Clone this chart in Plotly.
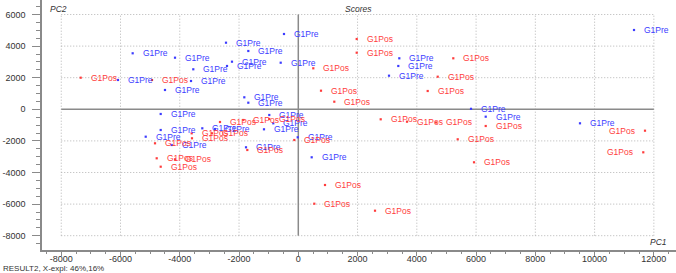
import plotly.graph_objects as go

# ---------------- data ----------------
pre_label = "G1Pre"
pos_label = "G1Pos"

pre_x = [-6085, -5590, -4161, -3544, -2440, -3621, -4499, -2238, -2406, -594,
         -483, -1687, -1822, -1687, 3409, 3375, 3061, 11330, 5829, 6325,
         9507, -20, 452, -979, -844, -1158, -1765, -5150, -4644, -4644,
         -4273, -3240, -2811]
pre_y = [1855, 3545, 3266, 2532, 4215, 1791, 1222, 3013, 2741, 2949,
         4766, 3690, 759, 418, 3228, 2741, 2127, 5019, 30, -468,
         -886, -1772, -3038, -361, -886, -1266, -2405, -1734, -1310, -297,
         -2259, -1203, -1247]

pos_x = [-7344, -4937, 1971, 1971, 506, 5231, 4705, 766, 1215, 4367,
         6325, 11701, 11643, 2781, 3669, 4647, 5380, 5930, 2589, 901,
         540, -135, -2643, -1856, -979, -1721, -4836, -4779, -4161, -4644,
         -3598, -3588, -2913]
pos_y = [2000, 1854, 4449, 3582, 2595, 3228, 2063, 1177, 481, 1158,
         -1057, -1354, -2722, -633, -785, -835, -1899, -3354, -6418, -4791,
         -5975, -1943, -804, -677, -614, -2576, -2152, -3101, -3165, -3633,
         -1519, -1835, -1519]

x_tick_vals = [-8000, -6000, -4000, -2000, 0, 2000, 4000, 6000, 8000, 10000, 12000]
x_tick_text = ["-8000", "-6000", "-4000", "-2000", "0", "2000", "4000", "6000", "8000", "10000", "12000"]
y_tick_vals = [-8000, -6000, -4000, -2000, 0, 2000, 4000, 6000]
y_tick_text = ["-8000", "-6000", "-4000", "-2000", "0", "2000", "4000", "6000"]

title_text = "Scores"
x_name = "PC1"
y_name = "PC2"
footer_text = "RESULT2, X-expl: 46%,16%"

# ---------------- style ----------------
W, H = 676, 273
ML, MR, MT, MB = 42, 0, 0, 23
PW, PH = W - ML - MR, H - MT - MB
BLUE = "#3c3cff"
RED = "#ff3c3c"
GRID = "#b4b4b4"
AXIS = "#8a8a8a"
TXT = "#333333"
FONT = "Arial, Liberation Sans, sans-serif"
LBL_SIZE = 8.5


def px_x(p):
    return (p - ML) / PW


def px_y(p):
    return (H - MB - p) / PH


fig = go.Figure()

for xs, ys, col in ((pre_x, pre_y, BLUE), (pos_x, pos_y, RED)):
    fig.add_trace(go.Scatter(
        x=xs, y=ys, mode="markers",
        marker=dict(symbol="square", size=2.2, color=col, line=dict(width=0)),
        hoverinfo="skip", showlegend=False))

annotations = []
for xs, ys, lab, col in ((pre_x, pre_y, pre_label, BLUE), (pos_x, pos_y, pos_label, RED)):
    for xv, yv in zip(xs, ys):
        left = xv > 11500
        annotations.append(dict(
            x=xv, y=yv, xref="x", yref="y", text=lab, showarrow=False,
            xanchor="right" if left else "left", yanchor="middle",
            xshift=-9 if left else 9, borderpad=0,
            font=dict(family=FONT, size=LBL_SIZE, color=col)))

# axis names and titles
annotations += [
    dict(x=px_x(49), y=px_y(8.5), xref="paper", yref="paper", text="<i>" + y_name + "</i>",
         showarrow=False, xanchor="left", yanchor="middle", borderpad=0,
         font=dict(family=FONT, size=8.5, color=TXT)),
    dict(x=px_x(344), y=px_y(8.5), xref="paper", yref="paper", text="<i>" + title_text + "</i>",
         showarrow=False, xanchor="left", yanchor="middle", borderpad=0,
         font=dict(family=FONT, size=8.5, color=TXT)),
    dict(x=px_x(668), y=px_y(242), xref="paper", yref="paper", text="<i>" + x_name + "</i>",
         showarrow=False, xanchor="right", yanchor="middle", borderpad=0,
         font=dict(family=FONT, size=8.5, color=TXT)),
    dict(x=px_x(2), y=px_y(268), xref="paper", yref="paper", text=footer_text,
         showarrow=False, xanchor="left", yanchor="middle", borderpad=0,
         font=dict(family=FONT, size=8, color=TXT)),
]

shapes = []
x0g, x1g = x_tick_vals[0], x_tick_vals[-1]
y0g, y1g = y_tick_vals[0], y_tick_vals[-1]
for v in x_tick_vals:
    if v == 0:
        continue
    shapes.append(dict(type="line", xref="x", yref="y", x0=v, x1=v, y0=y0g, y1=y1g,
                       layer="below", line=dict(color=GRID, width=1, dash="1px,2px")))
for v in y_tick_vals:
    if v == 0:
        continue
    shapes.append(dict(type="line", xref="x", yref="y", x0=x0g, x1=x1g, y0=v, y1=v,
                       layer="below", line=dict(color=GRID, width=1, dash="1px,2px")))
shapes.append(dict(type="line", xref="x", yref="y", x0=0, x1=0, y0=y0g, y1=y1g,
                   layer="below", line=dict(color=AXIS, width=1.5)))
shapes.append(dict(type="line", xref="x", yref="y", x0=x0g, x1=x1g, y0=0, y1=0,
                   layer="below", line=dict(color=AXIS, width=1.5)))

x_per_px = 2000 / 59.26
y_per_px = 2000 / 31.6
x_lo = -(298.3 - ML) * x_per_px
x_hi = (ML + PW - 298.3) * x_per_px
y_hi = (109.3 - MT) * y_per_px
y_lo = -((H - MB) - 109.3) * y_per_px

fig.update_layout(
    width=W, height=H,
    margin=dict(l=ML, r=MR, t=MT, b=MB, pad=0, autoexpand=False),
    paper_bgcolor="white", plot_bgcolor="white",
    font=dict(family=FONT, size=9, color=TXT),
    showlegend=False,
    annotations=annotations,
    shapes=shapes,
    xaxis=dict(range=[x_lo, x_hi], tickvals=x_tick_vals, ticktext=x_tick_text,
               showgrid=False, zeroline=False, showline=True, linecolor=AXIS, linewidth=1.5,
               ticks="outside", ticklen=4, tickcolor=AXIS, tickwidth=1, automargin=False,
               minor=dict(dtick=500, tick0=0, ticks="outside", ticklen=2, tickcolor=AXIS, showgrid=False),
               ticklabelstandoff=-5,
               tickfont=dict(family=FONT, size=9, color=TXT), fixedrange=True),
    yaxis=dict(range=[y_lo, y_hi], tickvals=y_tick_vals, ticktext=y_tick_text,
               showgrid=False, zeroline=False, showline=True, linecolor=AXIS, linewidth=1.5,
               ticks="outside", ticklen=8, tickcolor=AXIS, tickwidth=1, automargin=False,
               minor=dict(dtick=500, tick0=0, ticks="outside", ticklen=4, tickcolor=AXIS, showgrid=False),
               ticklabelstandoff=5,
               tickfont=dict(family=FONT, size=9, color=TXT), fixedrange=True),
)

fig.write_html(
    "out.html",
    config={"displayModeBar": False},
    post_script="document.body.style.margin='0';document.body.style.overflow='hidden';",
)
